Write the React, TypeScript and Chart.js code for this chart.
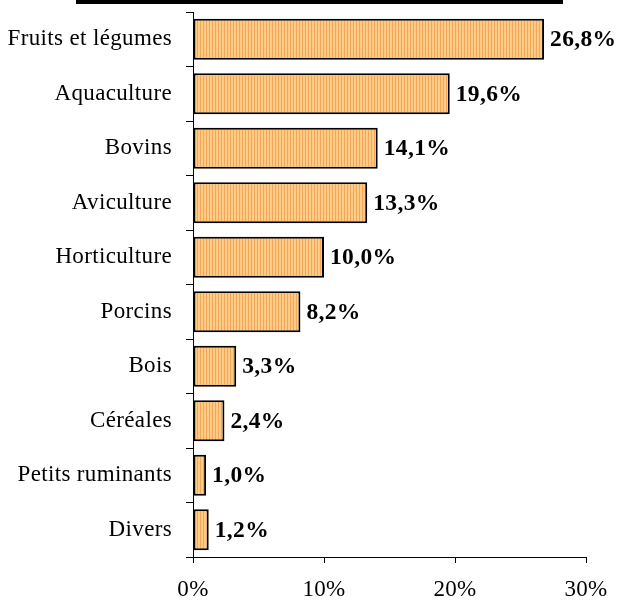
import React, { useEffect, useRef } from "react";
import { Chart, registerables } from "chart.js";

Chart.register(...registerables);

const categories = [
  "Fruits et légumes",
  "Aquaculture",
  "Bovins",
  "Aviculture",
  "Horticulture",
  "Porcins",
  "Bois",
  "Céréales",
  "Petits ruminants",
  "Divers",
];
const values = [26.8, 19.6, 14.1, 13.3, 10.0, 8.2, 3.3, 2.4, 1.0, 1.2];
const valueLabels = ["26,8%", "19,6%", "14,1%", "13,3%", "10,0%", "8,2%", "3,3%", "2,4%", "1,0%", "1,2%"];
const xTicks = [0, 10, 20, 30];

const FONT = "'Liberation Serif', 'Times New Roman', serif";

function makePattern(ctx: CanvasRenderingContext2D) {
  const c = document.createElement("canvas");
  c.width = 3;
  c.height = 4;
  const p = c.getContext("2d")!;
  p.fillStyle = "#FFCB85";
  p.fillRect(0, 0, 3, 4);
  p.fillStyle = "#F4A75A";
  p.fillRect(2, 0, 1, 4);
  return ctx.createPattern(c, "repeat")!;
}

export default function App() {
  const ref = useRef<HTMLCanvasElement>(null);
  useEffect(() => {
    const canvas = ref.current!;
    const ctx = canvas.getContext("2d")!;
    const pattern = makePattern(ctx);

    const decor = {
      id: "decor",
      beforeDraw(chart: any) {
        (chart.ctx as any).letterSpacing = "0.35px";
      },
      afterDraw(chart: any) {
        const c = chart.ctx;
        c.save();
        c.fillStyle = "#000";
        c.fillRect(76, 0, 487, 4);
        c.restore();
      },
    };

    const labelsPlugin = {
      id: "valueLabels",
      afterDatasetsDraw(chart: any) {
        const c = chart.ctx;
        const meta = chart.getDatasetMeta(0);
        c.save();
        c.font = `bold 23.5px ${FONT}`;
        c.fillStyle = "#000";
        c.textAlign = "left";
        c.textBaseline = "middle";
        meta.data.forEach((bar: any, i: number) => {
          c.fillText(valueLabels[i], bar.x + 6, bar.y + 1);
        });
        c.restore();
      },
    };

    const chart = new Chart(ctx, {
      type: "bar",
      data: {
        labels: categories,
        datasets: [
          {
            data: values,
            backgroundColor: pattern as any,
            borderColor: "#000",
            borderWidth: 2,
            borderSkipped: false,
            categoryPercentage: 1,
            barPercentage: 0.75,
          },
        ],
      },
      options: {
        indexAxis: "y",
        responsive: false,
        animation: false,
        layout: { padding: { left: 0, right: 36, top: 12, bottom: 0 } },
        plugins: {
          legend: { display: false },
          tooltip: { enabled: false },
          title: { display: false },
        },
        scales: {
          y: {
            type: "category",
            offset: true,
            grid: {
              offset: true,
              drawOnChartArea: false,
              drawTicks: true,
              tickLength: 7,
              color: "#000",
              lineWidth: 1,
            },
            border: { color: "#000", width: 1 },
            ticks: {
              color: "#000",
              font: { family: FONT, size: 23 },
              padding: 14,
              autoSkip: false,
            },
            afterFit(scale: any) {
              scale.width = 193;
              scale.paddingTop = 0;
              scale.paddingBottom = 0;
            },
          },
          x: {
            type: "linear",
            min: 0,
            max: 30,
            afterBuildTicks(scale: any) {
              scale.ticks = xTicks.map((v) => ({ value: v }));
            },
            grid: {
              drawOnChartArea: false,
              drawTicks: true,
              tickLength: 6,
              color: "#000",
              lineWidth: 1,
            },
            border: { color: "#000", width: 1 },
            ticks: {
              color: "#000",
              font: { family: FONT, size: 23 },
              padding: 13,
              callback: (v: any) => `${v}%`,
            },
            afterFit(scale: any) {
              scale.height = 44;
              scale.paddingLeft = 0;
              scale.paddingRight = 0;
            },
          },
        },
      },
      plugins: [decor, labelsPlugin],
    });
    return () => chart.destroy();
  }, []);

  return (
    <div style={{ position: "fixed", left: 0, top: 0, width: 622, height: 601, background: "#fff" }}>
      <canvas ref={ref} width={622} height={601} style={{ width: 622, height: 601, display: "block" }} />
    </div>
  );
}
